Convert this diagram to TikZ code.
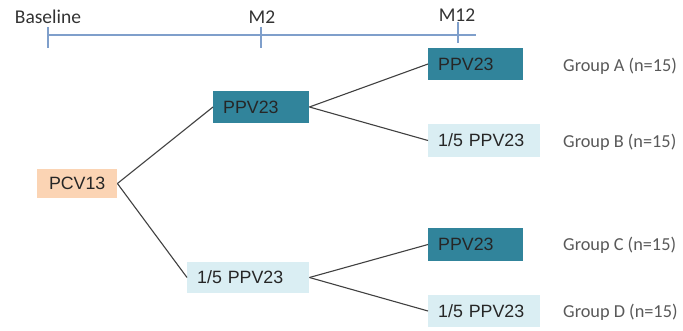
\documentclass[tikz,border=0pt]{standalone}
\usepackage{fontspec}
\setmainfont{Liberation Sans}
\newfontfamily\calib{Carlito}
\definecolor{teal}{HTML}{31849B}
\definecolor{lblue}{HTML}{DAEEF3}
\definecolor{peach}{HTML}{FBD4B4}
\definecolor{tline}{HTML}{7F9FCB}
\definecolor{conn}{HTML}{404040}
\definecolor{grp}{HTML}{595959}
\tikzset{
  vbox/.style={rectangle, anchor=west, inner xsep=10pt, inner ysep=0pt,
    minimum height=32pt, text width=#1, align=left, text height=12.8pt, text depth=0pt,
    font=\fontsize{17.8}{20}\selectfont, text=black!85},
  darkbox/.style={vbox=#1, fill=teal},
  lightbox/.style={vbox=#1, fill=lblue},
  peachbox/.style={vbox=#1, fill=peach, align=center},
  grplabel/.style={anchor=west, inner sep=0pt, font=\calib\fontsize{18.3}{20}\selectfont, text=grp},
  tlabel/.style={anchor=base, inner sep=0pt, font=\calib\fontsize{19.5}{22}\selectfont, text=black!80},
  timeline/.style={draw=tline, line width=1.2pt},
  link/.style={draw=conn, line width=1.1pt}
}
\begin{document}
\begin{tikzpicture}[x=1pt,y=-1pt]
\useasboundingbox (0,0) rectangle (683,331);
% timeline
\coordinate (t0) at (48,35);
\coordinate (tend) at (476,35);
\coordinate (b1) at (48,27); \coordinate (b2) at (48,48);
\coordinate (m1) at (261,27); \coordinate (m2) at (261,48);
\coordinate (k1) at (458,22); \coordinate (k2) at (458,43);
\draw[timeline] (t0) -- (tend);
\draw[timeline] (b1) -- (b2);
\draw[timeline] (m1) -- (m2);
\draw[timeline] (k1) -- (k2);
\node[tlabel] (lbase) at (48,24) {Baseline};
\node[tlabel] (lm2) at (262,24) {M2};
\node[tlabel] (lm12) at (457,22) {M12};
% boxes
\node[peachbox=60pt, minimum height=29pt] (pcv) at (37,183.5) {PCV13};
\node[darkbox=76pt] (m2p) at (213,107) {PPV23};
\node[lightbox=102pt, minimum height=31pt] (m2f) at (187,277.5) {1/5 PPV23};
\node[darkbox=75pt] (a) at (428,64) {PPV23};
\node[lightbox=92pt, minimum height=33pt] (b) at (428,140.5) {1/5 PPV23};
\node[darkbox=75pt, minimum height=33pt] (c) at (428,244.5) {PPV23};
\node[lightbox=92pt] (d) at (428,311) {1/5 PPV23};
% connectors
\draw[link] (pcv.east) -- (m2p.west);
\draw[link] (pcv.east) -- (m2f.west);
\draw[link] (m2p.east) -- (a.west);
\draw[link] (m2p.east) -- (b.west);
\draw[link] (m2f.east) -- (c.west);
\draw[link] (m2f.east) -- (d.west);
% group labels
\node[grplabel] (ga) at (563,66) {Group A (n=15)};
\node[grplabel] (gb) at (563,142) {Group B (n=15)};
\node[grplabel] (gc) at (563,245) {Group C (n=15)};
\node[grplabel] (gd) at (563,312) {Group D (n=15)};
\end{tikzpicture}
\end{document}
